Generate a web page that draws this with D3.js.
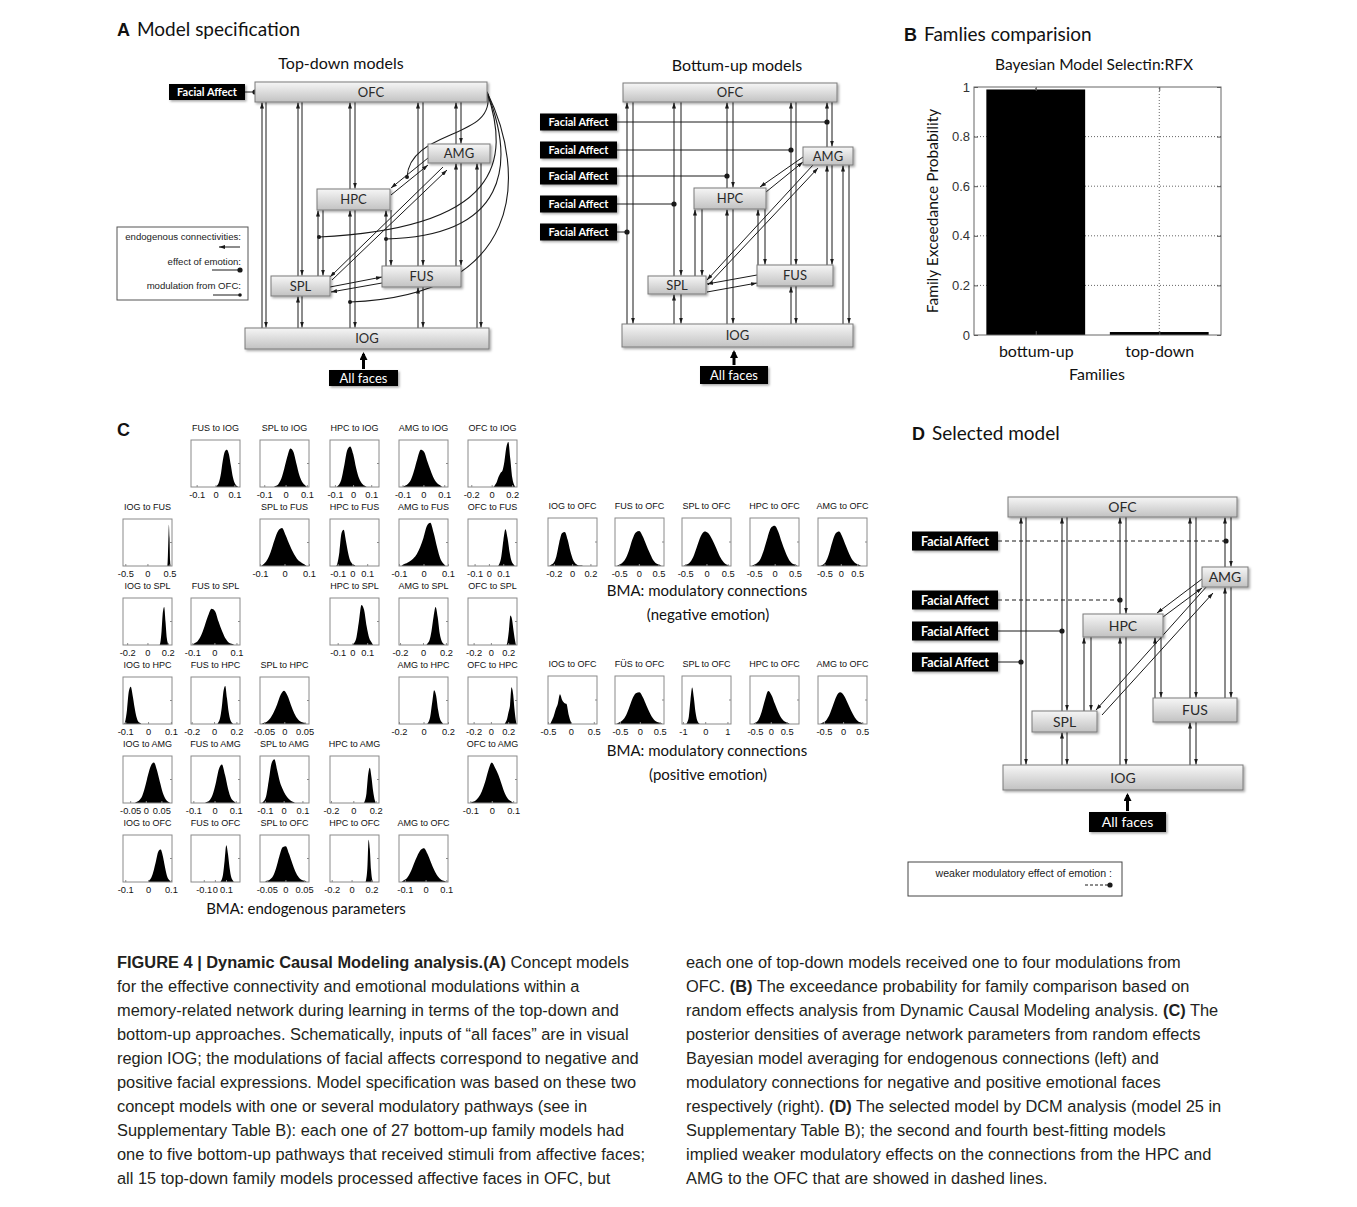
<!DOCTYPE html>
<html>
<head>
<meta charset="utf-8">
<script src="https://cdn.jsdelivr.net/npm/d3@7"></script>
<style>
  body { margin: 0; background: #fff; }
  svg { display: block; }
</style>
</head>
<body>
<svg id="fig" width="1357" height="1207"></svg>
<script>
// ---------- data ----------
const regions = ['IOG', 'FUS', 'SPL', 'HPC', 'AMG', 'OFC'];

// panel B
const families = ['bottum-up', 'top-down'];
const familyProb = [0.99, 0.012];
const probTicks = [0, 0.2, 0.4, 0.6, 0.8, 1];

// panel C: [title, axis lo, axis hi, ticks, first bin, last bin, relative bin heights]
const endogenous = [
  ['FUS to IOG', -0.13, 0.13, [-0.1, 0, 0.1], 0.0, 0.12, [0.02, 0.08, 0.25, 0.55, 0.75, 0.79, 0.7, 0.45, 0.2, 0.07, 0.02]],
  ['SPL to IOG', -0.12, 0.11, [-0.1, 0, 0.1], -0.055, 0.1, [0.02, 0.06, 0.18, 0.4, 0.65, 0.82, 0.75, 0.5, 0.25, 0.1, 0.03]],
  ['HPC to IOG', -0.127, 0.143, [-0.1, 0, 0.1], -0.09, 0.075, [0.03, 0.15, 0.45, 0.78, 0.86, 0.7, 0.4, 0.18, 0.07, 0.02]],
  ['AMG to IOG', -0.117, 0.118, [-0.1, 0, 0.1], -0.1, 0.09, [0.02, 0.06, 0.15, 0.35, 0.6, 0.79, 0.75, 0.55, 0.35, 0.18, 0.08, 0.03]],
  ['OFC to IOG', -0.232, 0.248, [-0.2, 0, 0.2], 0.02, 0.23, [0.03, 0.1, 0.22, 0.3, 0.35, 0.55, 0.85, 0.96, 0.6, 0.2, 0.04]],
  ['IOG to FUS', -0.552, 0.555, [-0.5, 0, 0.5], 0.45, 0.52, [0.1, 0.5, 0.88, 0.6, 0.1]],
  ['SPL to FUS', -0.1, 0.1, [-0.1, 0, 0.1], -0.095, 0.09, [0.03, 0.12, 0.3, 0.55, 0.75, 0.81, 0.65, 0.45, 0.28, 0.15, 0.08, 0.03]],
  ['HPC to FUS', -0.152, 0.18, [-0.1, 0, 0.1], -0.11, 0.02, [0.05, 0.3, 0.7, 0.77, 0.55, 0.3, 0.12, 0.05, 0.02]],
  ['AMG to FUS', -0.1, 0.1, [-0.1, 0, 0.1], -0.09, 0.09, [0.03, 0.06, 0.1, 0.16, 0.25, 0.4, 0.6, 0.85, 0.92, 0.7, 0.4, 0.15, 0.04]],
  ['OFC to FUS', -0.146, 0.196, [-0.1, 0, 0.1], 0.065, 0.18, [0.04, 0.2, 0.55, 0.78, 0.6, 0.3, 0.1, 0.03]],
  ['IOG to SPL', -0.241, 0.242, [-0.2, 0, 0.2], 0.12, 0.21, [0.05, 0.3, 0.7, 0.81, 0.5, 0.15, 0.03]],
  ['FUS to SPL', -0.106, 0.116, [-0.1, 0, 0.1], -0.1, 0.09, [0.03, 0.08, 0.2, 0.4, 0.62, 0.77, 0.72, 0.5, 0.3, 0.14, 0.05, 0.02]],
  ['HPC to SPL', -0.152, 0.18, [-0.1, 0, 0.1], 0.0, 0.14, [0.03, 0.15, 0.5, 0.85, 0.75, 0.4, 0.15, 0.05]],
  ['AMG to SPL', -0.209, 0.218, [-0.2, 0, 0.2], 0.03, 0.19, [0.03, 0.1, 0.3, 0.6, 0.81, 0.6, 0.25, 0.08, 0.02]],
  ['OFC to SPL', -0.265, 0.302, [-0.2, 0, 0.2], 0.18, 0.29, [0.05, 0.3, 0.63, 0.55, 0.3, 0.08]],
  ['IOG to HPC', -0.11, 0.105, [-0.1, 0, 0.1], -0.105, -0.03, [0.05, 0.3, 0.7, 0.79, 0.6, 0.35, 0.15, 0.05, 0.02]],
  ['FUS to HPC', -0.206, 0.232, [-0.2, 0, 0.2], 0.03, 0.17, [0.03, 0.12, 0.35, 0.7, 0.81, 0.55, 0.25, 0.08, 0.02]],
  ['SPL to HPC', -0.06, 0.061, [-0.05, 0, 0.05], -0.056, 0.055, [0.02, 0.05, 0.12, 0.25, 0.42, 0.62, 0.71, 0.6, 0.4, 0.22, 0.1, 0.04, 0.02]],
  ['AMG to HPC', -0.2, 0.2, [-0.2, 0, 0.2], 0.03, 0.16, [0.03, 0.15, 0.45, 0.72, 0.6, 0.3, 0.1, 0.03]],
  ['OFC to HPC', -0.265, 0.302, [-0.2, 0, 0.2], 0.16, 0.3, [0.03, 0.1, 0.25, 0.4, 0.78, 0.65, 0.3, 0.05]],
  ['IOG to AMG', -0.073, 0.084, [-0.05, 0, 0.05], -0.035, 0.078, [0.02, 0.06, 0.15, 0.35, 0.6, 0.8, 0.86, 0.7, 0.45, 0.22, 0.08, 0.02]],
  ['FUS to AMG', -0.111, 0.12, [-0.1, 0, 0.1], -0.045, 0.1, [0.02, 0.06, 0.18, 0.42, 0.72, 0.82, 0.6, 0.3, 0.1, 0.03]],
  ['SPL to AMG', -0.126, 0.135, [-0.1, 0, 0.1], -0.115, 0.06, [0.03, 0.15, 0.5, 0.85, 0.93, 0.7, 0.45, 0.3, 0.18, 0.1, 0.05, 0.02]],
  ['HPC to AMG', -0.209, 0.23, [-0.2, 0, 0.2], 0.095, 0.2, [0.04, 0.2, 0.6, 0.75, 0.55, 0.25, 0.06]],
  ['OFC to AMG', -0.111, 0.118, [-0.1, 0, 0.1], -0.1, 0.1, [0.02, 0.05, 0.12, 0.25, 0.45, 0.7, 0.86, 0.75, 0.6, 0.4, 0.2, 0.08, 0.03]],
  ['IOG to OFC', -0.11, 0.105, [-0.1, 0, 0.1], 0.0, 0.1, [0.03, 0.1, 0.25, 0.45, 0.65, 0.69, 0.55, 0.3, 0.1, 0.03]],
  ['FUS to OFC', -0.215, 0.226, [-0.1, 0, 0.1], 0.05, 0.17, [0.03, 0.15, 0.45, 0.78, 0.6, 0.3, 0.1, 0.03]],
  ['SPL to OFC', -0.068, 0.063, [-0.05, 0, 0.05], -0.055, 0.057, [0.02, 0.05, 0.12, 0.3, 0.55, 0.74, 0.76, 0.6, 0.4, 0.22, 0.1, 0.04, 0.02]],
  ['HPC to OFC', -0.217, 0.276, [-0.2, 0, 0.2], 0.14, 0.215, [0.05, 0.3, 0.9, 0.7, 0.25, 0.04]],
  ['AMG to OFC', -0.128, 0.108, [-0.1, 0, 0.1], -0.115, 0.1, [0.03, 0.08, 0.2, 0.38, 0.55, 0.68, 0.72, 0.6, 0.42, 0.25, 0.12, 0.05, 0.02]],
];

const negEmotion = [
  ['IOG to OFC', -0.264, 0.272, [-0.2, 0, 0.2], -0.25, 0.12, [0.02, 0.06, 0.2, 0.48, 0.68, 0.71, 0.55, 0.3, 0.12, 0.04, 0.01, 0.01]],
  ['FUS to OFC', -0.608, 0.642, [-0.5, 0, 0.5], -0.56, 0.58, [0.02, 0.06, 0.15, 0.32, 0.55, 0.7, 0.73, 0.62, 0.45, 0.28, 0.13, 0.05, 0.02]],
  ['SPL to OFC', -0.577, 0.578, [-0.5, 0, 0.5], -0.54, 0.54, [0.02, 0.06, 0.18, 0.4, 0.62, 0.72, 0.68, 0.55, 0.38, 0.2, 0.08, 0.02]],
  ['HPC to OFC', -0.604, 0.596, [-0.5, 0, 0.5], -0.56, 0.56, [0.02, 0.06, 0.15, 0.35, 0.6, 0.8, 0.84, 0.72, 0.5, 0.3, 0.14, 0.05, 0.02]],
  ['AMG to OFC', -0.696, 0.8, [-0.5, 0, 0.5], -0.62, 0.62, [0.02, 0.08, 0.25, 0.5, 0.68, 0.72, 0.6, 0.42, 0.25, 0.12, 0.05, 0.02]],
];

const posEmotion = [
  ['IOG to OFC', -0.5, 0.57, [-0.5, 0, 0.5], -0.45, 0.02, [0.05, 0.15, 0.3, 0.42, 0.62, 0.5, 0.44, 0.42, 0.2, 0.05]],
  ['FÜS to OFC', -0.623, 0.607, [-0.5, 0, 0.5], -0.59, 0.57, [0.02, 0.06, 0.15, 0.32, 0.52, 0.64, 0.66, 0.55, 0.38, 0.22, 0.1, 0.04, 0.02]],
  ['SPL to OFC', -1.044, 1.16, [-1, 0, 1], -0.85, -0.25, [0.03, 0.15, 0.5, 0.76, 0.55, 0.25, 0.08, 0.02]],
  ['HPC to OFC', -0.655, 0.891, [-0.5, 0, 0.5], -0.55, 0.6, [0.02, 0.08, 0.25, 0.5, 0.69, 0.6, 0.42, 0.25, 0.12, 0.05, 0.02]],
  ['AMG to OFC', -0.656, 0.625, [-0.5, 0, 0.5], -0.6, 0.54, [0.02, 0.06, 0.18, 0.38, 0.58, 0.66, 0.6, 0.45, 0.28, 0.14, 0.05, 0.02]],
];

const captionLeft = [
  '**FIGURE 4 | Dynamic Causal Modeling analysis.(A)** Concept models',
  'for the effective connectivity and emotional modulations within a',
  'memory-related network during learning in terms of the top-down and',
  'bottom-up approaches. Schematically, inputs of “all faces” are in visual',
  'region IOG; the modulations of facial affects correspond to negative and',
  'positive facial expressions. Model specification was based on these two',
  'concept models with one or several modulatory pathways (see in',
  'Supplementary Table B): each one of 27 bottom-up family models had',
  'one to five bottom-up pathways that received stimuli from affective faces;',
  'all 15 top-down family models processed affective faces in OFC, but',
];
const captionRight = [
  'each one of top-down models received one to four modulations from',
  'OFC. **(B)** The exceedance probability for family comparison based on',
  'random effects analysis from Dynamic Causal Modeling analysis. **(C)** The',
  'posterior densities of average network parameters from random effects',
  'Bayesian model averaging for endogenous connections (left) and',
  'modulatory connections for negative and positive emotional faces',
  'respectively (right). **(D)** The selected model by DCM analysis (model 25 in',
  'Supplementary Table B); the second and fourth best-fitting models',
  'implied weaker modulatory effects on the connections from the HPC and',
  'AMG to the OFC that are showed in dashed lines.',
];

// ---------- diagram layouts (box rects, line x positions) ----------
const topDown = {
  title: ['Top-down models', 341, 69],
  font: 13,
  boxes: { OFC: [255, 82, 232, 20], AMG: [428, 144, 62, 19], HPC: [317, 189, 73, 21],
           FUS: [382, 266, 79, 21], SPL: [271, 276, 59, 20], IOG: [245, 328, 244, 21] },
  pairs: [['OFC', 'IOG', 262, 266], ['OFC', 'SPL', 298, 302], ['SPL', 'IOG', 298, 302],
          ['OFC', 'HPC', 350, 355], ['HPC', 'IOG', 350, 355], ['HPC', 'SPL', 318, 323],
          ['HPC', 'FUS', 386, 391], ['OFC', 'FUS', 418, 423], ['FUS', 'IOG', 418, 423],
          ['OFC', 'AMG', 456, 461], ['AMG', 'FUS', 456, 461], ['AMG', 'IOG', 477, 481]],
  diags: [[428, 158, 391, 188], [391, 195, 428, 165], [443, 167, 330, 277],
          [332, 280, 447, 170], [330, 287, 382, 277], [382, 283, 331, 292]],
  affect: { x: 169, w: 76, h: 16, font: 11, ys: [92], dots: [255], dashed: [false] },
  curves: [[[487, 92], [499, 140], [410, 128], [407, 177]],
           [[487, 92], [510, 160], [502, 228], [319, 237]],
           [[487, 92], [516, 165], [507, 236], [386, 239]],
           [[487, 92], [528, 175], [524, 296], [350, 302]]],
  faces: [329, 370, 69, 16],
};

const bottomUp = {
  title: ['Bottum-up models', 737, 71],
  font: 13,
  boxes: { OFC: [623, 83, 214, 19], AMG: [803, 147, 50, 18], HPC: [694, 188, 72, 21],
           FUS: [757, 265, 76, 21], SPL: [648, 276, 58, 18], IOG: [622, 324, 231, 23] },
  pairs: [['OFC', 'IOG', 627, 633], ['OFC', 'SPL', 674, 681], ['SPL', 'IOG', 674, 681],
          ['OFC', 'HPC', 727, 733], ['HPC', 'IOG', 727, 733], ['HPC', 'SPL', 695, 702],
          ['HPC', 'FUS', 758, 765], ['OFC', 'FUS', 791, 796], ['FUS', 'IOG', 791, 796],
          ['OFC', 'AMG', 827, 832], ['AMG', 'FUS', 827, 832], ['AMG', 'IOG', 843, 849]],
  diags: [[803, 157, 760, 187], [766, 192, 803, 162], [813, 165, 707, 280],
          [708, 285, 818, 168], [757, 275, 707, 284], [707, 292, 757, 283]],
  affect: { x: 540, w: 77, h: 17, font: 11, ys: [122, 150, 176, 204, 232],
            dots: [827, 791, 727, 674, 627], dashed: [false, false, false, false, false] },
  curves: [],
  faces: [700, 366, 68, 18],
};

const selected = {
  title: null,
  font: 14,
  boxes: { OFC: [1008, 497, 229, 20], AMG: [1202, 567, 46, 20], HPC: [1083, 614, 80, 23],
           FUS: [1153, 698, 84, 24], SPL: [1032, 711, 65, 21], IOG: [1003, 765, 240, 25] },
  pairs: [['OFC', 'IOG', 1021, 1026], ['OFC', 'SPL', 1062, 1067], ['SPL', 'IOG', 1062, 1067],
          ['OFC', 'HPC', 1120, 1126], ['HPC', 'IOG', 1120, 1126], ['HPC', 'SPL', 1084, 1091],
          ['HPC', 'FUS', 1155, 1161], ['OFC', 'FUS', 1190, 1196], ['FUS', 'IOG', 1190, 1196],
          ['OFC', 'AMG', 1225, 1231], ['AMG', 'FUS', 1225, 1231]],
  diags: [[1202, 579, 1157, 613], [1163, 617, 1202, 588], [1208, 585, 1096, 710], [1102, 715, 1213, 593]],
  affect: { x: 912, w: 86, h: 19, font: 12.5, ys: [541, 600, 631, 662],
            dots: [1226, 1120, 1062, 1021], dashed: [true, true, false, false] },
  curves: [],
  faces: [1089, 812, 77, 20],
};

// ---------- setup ----------
const UI = 'Lato, "Open Sans", sans-serif';
const ARIAL = '"Liberation Sans", Arial, sans-serif';
const INK = '#1a1a1a';

const svg = d3.select('#fig');
const defs = svg.append('defs');

const boxGrad = defs.append('linearGradient')
  .attr('id', 'boxGrad')
  .attr('x1', 0).attr('x2', 0).attr('y1', 0).attr('y2', 1);
boxGrad.append('stop').attr('offset', '0%').attr('stop-color', '#f6f6f6');
boxGrad.append('stop').attr('offset', '100%').attr('stop-color', '#c2c2c2');

defs.append('filter')
  .attr('id', 'shadow')
  .attr('x', '-10%').attr('y', '-30%').attr('width', '130%').attr('height', '190%')
  .append('feDropShadow')
  .attr('dx', 1.5).attr('dy', 1.5)
  .attr('stdDeviation', 1)
  .attr('flood-color', '#000')
  .attr('flood-opacity', 0.35);

// small arrowhead used on every connection
defs.append('marker')
  .attr('id', 'arr')
  .attr('viewBox', '0 0 6 4')
  .attr('refX', 6).attr('refY', 2)
  .attr('markerWidth', 6).attr('markerHeight', 4)
  .attr('markerUnits', 'userSpaceOnUse')
  .attr('orient', 'auto')
  .append('path').attr('d', 'M0,0L6,2L0,4Z').attr('fill', INK);

defs.append('marker')
  .attr('id', 'arrBig')
  .attr('viewBox', '0 0 8 8')
  .attr('refX', 6).attr('refY', 4)
  .attr('markerWidth', 8).attr('markerHeight', 8)
  .attr('markerUnits', 'userSpaceOnUse')
  .attr('orient', 'auto')
  .append('path').attr('d', 'M0,0L8,4L0,8Z').attr('fill', '#000');

function panelLabel(letter, text, x, y, size) {
  const t = svg.append('text').attr('x', x).attr('y', y).attr('fill', '#111');
  t.append('tspan')
    .attr('font-family', ARIAL).attr('font-weight', 'bold').attr('font-size', size)
    .text(letter);
  if (text) {
    t.append('tspan')
      .attr('font-family', UI).attr('font-size', size + 1)
      .attr('dx', 7)
      .text(text);
  }
}

// ---------- network diagrams ----------
function drawDiagram(L) {
  const g = svg.append('g');

  if (L.title) {
    g.append('text')
      .attr('x', L.title[1]).attr('y', L.title[2])
      .attr('text-anchor', 'middle')
      .attr('font-family', UI).attr('font-size', 16).attr('fill', '#111')
      .text(L.title[0]);
  }

  const line = (x1, y1, x2, y2) => g.append('line')
    .attr('x1', x1).attr('y1', y1).attr('x2', x2).attr('y2', y2)
    .attr('stroke', INK).attr('stroke-width', 1);

  // reciprocal vertical connections: left one points up, right one points down
  L.pairs.forEach(([a, b, xu, xd]) => {
    const yTop = L.boxes[a][1] + L.boxes[a][3];
    const yBot = L.boxes[b][1];
    line(xu, yBot, xu, yTop + 0.5).attr('marker-end', 'url(#arr)');
    line(xd, yTop, xd, yBot - 0.5).attr('marker-end', 'url(#arr)');
  });

  L.diags.forEach(([x1, y1, x2, y2]) => line(x1, y1, x2, y2).attr('marker-end', 'url(#arr)'));

  // modulation from OFC
  L.curves.forEach((c) => {
    const p = d3.path();
    p.moveTo(c[0][0], c[0][1]);
    p.bezierCurveTo(c[1][0], c[1][1], c[2][0], c[2][1], c[3][0], c[3][1]);
    g.append('path').attr('d', p.toString())
      .attr('fill', 'none').attr('stroke', INK).attr('stroke-width', 1.1);
    g.append('circle').attr('cx', c[3][0]).attr('cy', c[3][1]).attr('r', 2).attr('fill', INK);
  });

  // effect of emotion
  const A = L.affect;
  A.ys.forEach((y, i) => {
    line(A.x + A.w, y, A.dots[i], y)
      .attr('stroke-dasharray', A.dashed[i] ? '4,3' : null);
    g.append('circle').attr('cx', A.dots[i]).attr('cy', y).attr('r', 2.6).attr('fill', INK);
  });

  // region boxes
  Object.entries(L.boxes).forEach(([name, [x, y, w, h]]) => {
    g.append('rect')
      .attr('x', x).attr('y', y).attr('width', w).attr('height', h)
      .attr('fill', 'url(#boxGrad)').attr('stroke', '#7a7a7a').attr('stroke-width', 1)
      .attr('filter', 'url(#shadow)');
    g.append('text')
      .attr('x', x + w / 2).attr('y', y + h / 2).attr('dy', '0.36em')
      .attr('text-anchor', 'middle')
      .attr('font-family', UI).attr('font-size', L.font).attr('fill', '#2a2a2a')
      .text(name);
  });

  A.ys.forEach((y) => {
    g.append('rect')
      .attr('x', A.x).attr('y', y - A.h / 2).attr('width', A.w).attr('height', A.h)
      .attr('fill', '#000').attr('filter', 'url(#shadow)');
    g.append('text')
      .attr('x', A.x + A.w / 2).attr('y', y).attr('dy', '0.36em')
      .attr('text-anchor', 'middle')
      .attr('font-family', UI).attr('font-weight', 'bold').attr('font-size', A.font)
      .attr('fill', '#fff')
      .text('Facial Affect');
  });

  // input
  const [fx, fy, fw, fh] = L.faces;
  const iog = L.boxes.IOG;
  g.append('line')
    .attr('x1', fx + fw / 2).attr('y1', fy - 1)
    .attr('x2', fx + fw / 2).attr('y2', iog[1] + iog[3] + 5)
    .attr('stroke', '#000').attr('stroke-width', 3)
    .attr('marker-end', 'url(#arrBig)');
  g.append('rect')
    .attr('x', fx).attr('y', fy).attr('width', fw).attr('height', fh)
    .attr('fill', '#000').attr('filter', 'url(#shadow)');
  g.append('text')
    .attr('x', fx + fw / 2).attr('y', fy + fh / 2).attr('dy', '0.36em')
    .attr('text-anchor', 'middle')
    .attr('font-family', UI).attr('font-size', L.font).attr('fill', '#fff')
    .text('All faces');
}

panelLabel('A', 'Model specification', 117, 36, 18);
drawDiagram(topDown);
drawDiagram(bottomUp);

// legend of panel A
{
  const g = svg.append('g').attr('font-family', ARIAL).attr('font-size', 9.6).attr('fill', '#222');
  g.append('rect').attr('x', 117).attr('y', 227).attr('width', 131).attr('height', 73)
    .attr('fill', '#fff').attr('stroke', '#555');
  const items = [['endogenous connectivities:', 240], ['effect of emotion:', 265], ['modulation from OFC:', 289]];
  items.forEach(([t, y]) => g.append('text').attr('x', 241).attr('y', y).attr('text-anchor', 'end').text(t));
  g.append('line').attr('x1', 240).attr('y1', 247).attr('x2', 219).attr('y2', 247)
    .attr('stroke', INK).attr('marker-end', 'url(#arr)');
  g.append('line').attr('x1', 212).attr('y1', 270).attr('x2', 240).attr('y2', 270).attr('stroke', INK);
  g.append('circle').attr('cx', 240).attr('cy', 270).attr('r', 2.6).attr('fill', INK);
  g.append('line').attr('x1', 213).attr('y1', 295).attr('x2', 240).attr('y2', 295).attr('stroke', INK);
  g.append('circle').attr('cx', 240).attr('cy', 295).attr('r', 1.8).attr('fill', INK);
}

// ---------- panel B ----------
{
  panelLabel('B', 'Famlies comparision', 904, 41, 18);
  const g = svg.append('g');
  const x = d3.scaleLinear().domain([0.5, 2.5]).range([974, 1221]);
  const y = d3.scaleLinear().domain([0, 1]).range([335, 87]);

  g.append('text')
    .attr('x', 1094).attr('y', 70).attr('text-anchor', 'middle')
    .attr('font-family', UI).attr('font-size', 15.5).attr('fill', '#111')
    .text('Bayesian Model Selectin:RFX');

  g.append('g').selectAll('line').data(probTicks.slice(1, -1)).join('line')
    .attr('x1', x(0.5)).attr('x2', x(2.5)).attr('y1', (d) => y(d)).attr('y2', (d) => y(d))
    .attr('stroke', '#666').attr('stroke-dasharray', '1,2');
  g.append('g').selectAll('line').data([1, 2]).join('line')
    .attr('x1', (d) => x(d)).attr('x2', (d) => x(d)).attr('y1', y(0)).attr('y2', y(1))
    .attr('stroke', '#666').attr('stroke-dasharray', '1,2');

  g.append('g').selectAll('rect').data(familyProb).join('rect')
    .attr('x', (d, i) => x(i + 1 - 0.4))
    .attr('width', x(1.4) - x(0.6))
    .attr('y', (d) => y(d))
    .attr('height', (d) => y(0) - y(d))
    .attr('fill', '#000');

  const styleAxis = (sel) => {
    sel.select('.domain').remove();
    sel.selectAll('line').attr('stroke', '#555');
  };
  g.append('g').attr('transform', `translate(${x(0.5)},0)`)
    .call(d3.axisLeft(y).tickValues(probTicks).tickFormat((d) => d).tickSizeInner(-4).tickSizeOuter(0).tickPadding(4))
    .call(styleAxis)
    .selectAll('text').attr('font-family', ARIAL).attr('font-size', 13).attr('fill', '#333');
  g.append('g').attr('transform', `translate(${x(2.5)},0)`)
    .call(d3.axisRight(y).tickValues(probTicks).tickFormat('').tickSizeInner(-4).tickSizeOuter(0))
    .call(styleAxis);
  g.append('g').attr('transform', `translate(0,${y(0)})`)
    .call(d3.axisBottom(x).tickValues([1, 2]).tickFormat((d) => families[d - 1]).tickSizeInner(-4).tickSizeOuter(0).tickPadding(11))
    .call(styleAxis)
    .selectAll('text').attr('font-family', UI).attr('font-size', 16).attr('fill', '#111');
  g.append('g').attr('transform', `translate(0,${y(1)})`)
    .call(d3.axisTop(x).tickValues([1, 2]).tickFormat('').tickSizeInner(-4).tickSizeOuter(0))
    .call(styleAxis);

  g.append('rect')
    .attr('x', x(0.5)).attr('y', y(1)).attr('width', x(2.5) - x(0.5)).attr('height', y(0) - y(1))
    .attr('fill', 'none').attr('stroke', '#666');

  g.append('text')
    .attr('transform', 'translate(938,211) rotate(-90)')
    .attr('text-anchor', 'middle')
    .attr('font-family', UI).attr('font-size', 15.5).attr('fill', '#111')
    .text('Family Exceedance Probability');
  g.append('text')
    .attr('x', 1097).attr('y', 380).attr('text-anchor', 'middle')
    .attr('font-family', UI).attr('font-size', 16).attr('fill', '#111')
    .text('Families');
}

// ---------- panel C ----------
function drawHist(h, x0, y0, w, ht) {
  const [title, lo, hi, ticks, a, b, heights] = h;
  const g = svg.append('g');
  const x = d3.scaleLinear().domain([lo, hi]).range([x0, x0 + w]);
  const y = d3.scaleLinear().domain([0, 1]).range([y0 + ht, y0]);
  const step = (b - a) / heights.length;
  const pts = [[a, 0]].concat(heights.map((v, i) => [a + step * (i + 0.5), v]), [[b, 0]]);

  g.append('path')
    .datum(pts)
    .attr('d', d3.area().x((d) => x(d[0])).y0(y(0)).y1((d) => y(d[1])).curve(d3.curveMonotoneX))
    .attr('fill', '#000');

  g.append('rect')
    .attr('x', x0).attr('y', y0).attr('width', w).attr('height', ht)
    .attr('fill', 'none').attr('stroke', '#8a8a8a');
  g.append('line')
    .attr('x1', x0 + w - 2).attr('x2', x0 + w).attr('y1', y(0.5)).attr('y2', y(0.5))
    .attr('stroke', '#8a8a8a');

  const ax = g.append('g').attr('transform', `translate(0,${y0 + ht})`)
    .call(d3.axisBottom(x).tickValues(ticks).tickFormat((d) => d).tickSizeInner(-2).tickSizeOuter(0).tickPadding(4));
  ax.select('.domain').remove();
  ax.selectAll('line').attr('stroke', '#8a8a8a');
  ax.selectAll('text').attr('font-family', ARIAL).attr('font-size', 9.3).attr('fill', '#111');

  g.append('text')
    .attr('x', x0 + w / 2).attr('y', y0 - 9)
    .attr('text-anchor', 'middle')
    .attr('font-family', ARIAL).attr('font-size', 9).attr('fill', '#111')
    .text(title);
}

{
  svg.append('text').attr('x', 117).attr('y', 436)
    .attr('font-family', ARIAL).attr('font-weight', 'bold').attr('font-size', 18).attr('fill', '#111')
    .text('C');

  const colX = [123, 191, 260, 330, 399, 468];
  const rowY = [440, 519, 598, 677, 756, 835];
  endogenous.forEach((h) => {
    const [src, dst] = h[0].split(' to ');
    drawHist(h, colX[regions.indexOf(src)], rowY[regions.indexOf(dst)], 49, 47);
  });

  const modX = [548, 615, 682, 750, 818];
  negEmotion.forEach((h, i) => drawHist(h, modX[i], 518, 49, 48));
  posEmotion.forEach((h, i) => drawHist(h, modX[i], 676, 49, 48));

  const cap = (t, x, y) => svg.append('text').attr('x', x).attr('y', y)
    .attr('text-anchor', 'middle')
    .attr('font-family', UI).attr('font-size', 15).attr('fill', '#111').text(t);
  cap('BMA: endogenous parameters', 306, 914);
  cap('BMA: modulatory connections', 707, 596);
  cap('(negative emotion)', 708, 620);
  cap('BMA: modulatory connections', 707, 756);
  cap('(positive emotion)', 708, 780);
}

// ---------- panel D ----------
panelLabel('D', 'Selected model', 912, 440, 18);
drawDiagram(selected);
{
  const g = svg.append('g');
  g.append('rect').attr('x', 908).attr('y', 862).attr('width', 214).attr('height', 34)
    .attr('fill', '#fff').attr('stroke', '#444');
  g.append('text').attr('x', 1112).attr('y', 877).attr('text-anchor', 'end')
    .attr('font-family', ARIAL).attr('font-size', 10.6).attr('fill', '#222')
    .text('weaker modulatory effect of emotion :');
  g.append('line').attr('x1', 1085).attr('y1', 885).attr('x2', 1110).attr('y2', 885)
    .attr('stroke', INK).attr('stroke-dasharray', '3,2');
  g.append('circle').attr('cx', 1110).attr('cy', 885).attr('r', 2.6).attr('fill', INK);
}

// ---------- caption ----------
function drawCaption(lines, x) {
  // slightly condensed sans, as in the printed caption
  const g = svg.append('g')
    .attr('transform', `translate(${x},0) scale(0.965,1)`)
    .attr('font-family', ARIAL).attr('font-size', 17).attr('fill', '#231f20');
  lines.forEach((ln, i) => {
    const t = g.append('text').attr('x', 0).attr('y', 968 + 24 * i);
    ln.split('**').forEach((seg, j) => {
      if (seg) t.append('tspan').attr('font-weight', j % 2 ? 'bold' : 'normal').text(seg);
    });
  });
}
drawCaption(captionLeft, 117);
drawCaption(captionRight, 686);
</script>
</body>
</html>
